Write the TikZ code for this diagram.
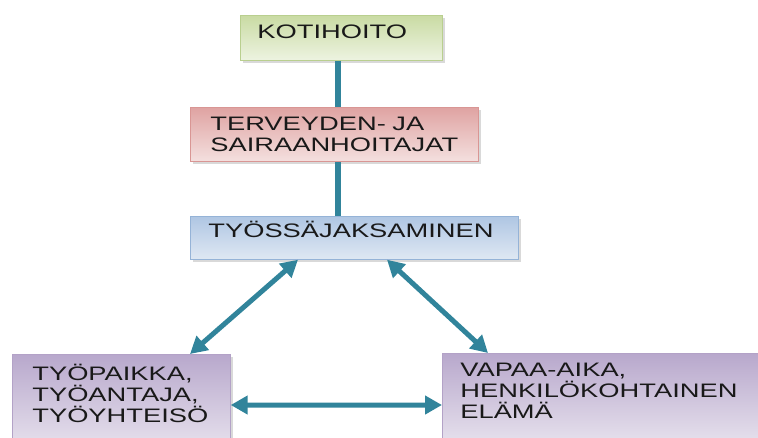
\documentclass[tikz,border=0pt]{standalone}
\usepackage{fontspec}
\setmainfont{Liberation Sans}[FakeStretch=1.4]
\usetikzlibrary{arrows.meta,shadows}
\definecolor{linkteal}{HTML}{31849B}
\definecolor{greendark}{HTML}{C9DBA3}
\definecolor{greenlight}{HTML}{EDF3E1}
\definecolor{greenline}{HTML}{B9CF8F}
\definecolor{reddark}{HTML}{DFA3A2}
\definecolor{redlight}{HTML}{F4E0DF}
\definecolor{redline}{HTML}{D99694}
\definecolor{bluedark}{HTML}{AFC6E3}
\definecolor{bluelight}{HTML}{DFE8F3}
\definecolor{blueline}{HTML}{95B3D7}
\definecolor{violetdark}{HTML}{B8A8CC}
\definecolor{violetlight}{HTML}{E8E3EE}
\definecolor{violetline}{HTML}{B3A2C7}
\begin{document}
\begin{tikzpicture}[
    box/.style={anchor=north west, align=left, inner ysep=0pt,
      text=black!90, font=\fontsize{11.1}{11.8}\selectfont,
      drop shadow={shadow xshift=0.05cm, shadow yshift=-0.05cm, opacity=0.3}},
    stem/.style={linkteal, line width=0.12cm},
    link/.style={linkteal, line width=0.1cm, <->,
      >={Triangle[width=0.36cm,length=0.34cm]}}
  ]
  \useasboundingbox (0,0) rectangle (15.16,-8.74);
  \clip (0,0) rectangle (15.16,-8.74);
  %% boxes
  \node[box, draw=greenline, top color=greendark, bottom color=greenlight,
    text width=3.36cm, inner xsep=0.34cm, text height=0.46cm, text depth=0.44cm]
    (home) at (4.8,-0.3) {KOTIHOITO};
  \node[box, draw=redline, top color=reddark, bottom color=redlight,
    text width=4.96cm, inner xsep=0.4cm, inner ysep=0.2cm]
    (staff) at (3.8,-2.14) {TERVEYDEN- JA\\SAIRAANHOITAJAT};
  \node[box, draw=blueline, top color=bluedark, bottom color=bluelight,
    text width=5.84cm, inner xsep=0.36cm, text height=0.42cm, text depth=0.44cm]
    (work) at (3.8,-4.32) {TYÖSSÄJAKSAMINEN};
  \node[box, draw=violetline, top color=violetdark, bottom color=violetlight,
    text width=3.56cm, inner xsep=0.4cm, inner ysep=0.2cm, text depth=1.2cm]
    (place) at (0.24,-7.08) {TYÖPAIKKA,\\TYÖANTAJA,\\TYÖYHTEISÖ};
  \node[box, draw=violetline, top color=violetdark, bottom color=violetlight,
    text width=7cm, inner xsep=0.36cm, inner ysep=0.2cm, text depth=1.2cm]
    (life) at (8.84,-7.06) {VAPAA-AIKA,\\HENKILÖKOHTAINEN\\ELÄMÄ};
  %% connectors
  \draw[stem] ([xshift=-0.06cm]home.south) -- ([xshift=-0.06cm]home.south |- staff.north);
  \draw[stem] ([xshift=-0.06cm]staff.south -| home.south) -- ([xshift=-0.06cm]work.north -| home.south);
  \draw[link] ([xshift=2.16cm]work.south west) -- ([xshift=3.56cm]place.north west);
  \draw[link] ([xshift=3.94cm]work.south west) -- ([xshift=0.92cm]life.north west);
  \draw[link] ([yshift=-1.02cm]place.north east) -- ([yshift=-1.04cm]life.north west);
\end{tikzpicture}
\end{document}
